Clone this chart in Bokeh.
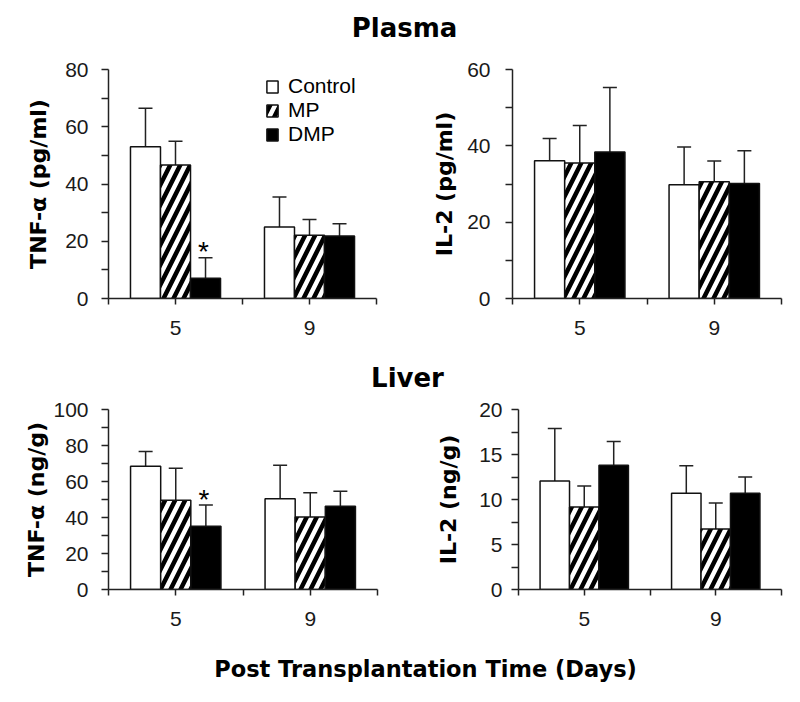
from bokeh.plotting import figure
from bokeh.models import (Range1d, FixedTicker, Legend, LegendItem, Whisker, TeeHead,
                          ColumnDataSource, Label)
from bokeh.layouts import column, row
from bokeh.embed import file_html
from bokeh.resources import INLINE

# ---------------- data ----------------
days = ["5", "9"]
groups = ["Control", "MP", "DMP"]

plasma_tnf_control = [53.0, 25.0]
plasma_tnf_control_err = [13.5, 10.5]
plasma_tnf_mp = [46.6, 22.1]
plasma_tnf_mp_err = [8.3, 5.5]
plasma_tnf_dmp = [7.1, 21.8]
plasma_tnf_dmp_err = [7.1, 4.3]
plasma_tnf_sig = ["*", ""]

plasma_il2_control = [36.1, 29.8]
plasma_il2_control_err = [5.8, 9.9]
plasma_il2_mp = [35.5, 30.6]
plasma_il2_mp_err = [9.8, 5.4]
plasma_il2_dmp = [38.4, 30.1]
plasma_il2_dmp_err = [16.9, 8.6]
plasma_il2_sig = ["", ""]

liver_tnf_control = [68.5, 50.4]
liver_tnf_control_err = [8.1, 18.6]
liver_tnf_mp = [49.6, 40.3]
liver_tnf_mp_err = [17.8, 13.5]
liver_tnf_dmp = [35.2, 46.2]
liver_tnf_dmp_err = [11.7, 8.4]
liver_tnf_sig = ["*", ""]

liver_il2_control = [12.05, 10.7]
liver_il2_control_err = [5.85, 3.05]
liver_il2_mp = [9.17, 6.73]
liver_il2_mp_err = [2.33, 2.87]
liver_il2_dmp = [13.8, 10.7]
liver_il2_dmp_err = [2.65, 1.8]
liver_il2_sig = ["", ""]

plasma_tnf_yticks = [0, 20, 40, 60, 80]
plasma_il2_yticks = [0, 20, 40, 60]
liver_tnf_yticks = [0, 20, 40, 60, 80, 100]
liver_il2_yticks = [0, 5, 10, 15, 20]

# ---------------- styles ----------------
FONT = "Liberation Sans"
BOLD_FONT = "DejaVu Sans"
TXT = "#1a1a1a"
BAR_W = 0.224
styles = {
    "Control": dict(fill_color="white", hatch_pattern=None),
    "MP": dict(fill_color="white", hatch_pattern="/"),
    "DMP": dict(fill_color="black", hatch_pattern=None),
}


def panel(width, height, left, top, right, bottom, yticks, ylabel, series, sig,
          tick_standoff, label_standoff, legend=False):
    ymax = yticks[-1]
    step = yticks[1] - yticks[0]
    minors = [t + step / 2 for t in yticks[:-1]]
    p = figure(width=width, height=height, x_range=Range1d(0, len(days)),
               y_range=Range1d(0, ymax), output_backend="svg", toolbar_location=None,
               min_border_left=left, min_border_top=top, min_border_right=right,
               min_border_bottom=bottom)
    p.outline_line_color = None
    p.grid.visible = False

    renderers = {}
    for j, g in enumerate(groups):
        means, errs = series[g]
        xs = [i + 0.5 + (j - 1) * BAR_W for i in range(len(days))]
        src = ColumnDataSource(dict(x=xs, top=means,
                                    up=[m + e for m, e in zip(means, errs)]))
        st = styles[g]
        kw = {}
        if st["hatch_pattern"]:
            kw = dict(hatch_pattern=st["hatch_pattern"], hatch_scale=20,
                      hatch_weight=4.5, hatch_color="black")
        r = p.vbar(x="x", top="top", bottom=0, width=BAR_W, source=src,
                   fill_color=st["fill_color"], line_color="#111111", line_width=1.5, **kw)
        renderers[g] = r
        w = Whisker(source=src, base="x", lower="top", upper="up", dimension="height",
                    line_color="#222222", line_width=1.5, lower_head=None,
                    upper_head=TeeHead(size=14, line_color="#222222", line_width=1.5))
        p.add_layout(w)
        if g == "DMP":
            ssrc = ColumnDataSource(dict(x=xs, y=src.data["up"], t=sig))
            p.text(x="x", y="y", text="t", source=ssrc, text_align="center",
                   text_baseline="alphabetic", text_font_size="28px", x_offset=-2,
                   y_offset=-6, text_color="black", text_font={"value": FONT})

    # axes
    ya = p.yaxis[0]
    ya.ticker = FixedTicker(ticks=yticks, minor_ticks=minors)
    ya.axis_label = ylabel
    ya.axis_label_text_font = BOLD_FONT
    ya.axis_label_text_font_style = "bold"
    ya.axis_label_text_font_size = "22px"
    ya.axis_label_text_color = "black"
    ya.axis_label_standoff = label_standoff
    ya.major_label_text_font = FONT
    ya.major_label_text_font_size = "21px"
    ya.major_label_text_color = TXT
    ya.major_label_standoff = tick_standoff
    ya.major_tick_out = 7
    ya.major_tick_in = 0
    ya.minor_tick_out = 7
    ya.minor_tick_in = 0
    ya.axis_line_width = 1.5
    ya.axis_line_color = "#222222"
    ya.major_tick_line_width = 1.5
    ya.minor_tick_line_width = 1.5
    ya.major_tick_line_color = "#222222"
    ya.minor_tick_line_color = "#222222"

    xa = p.xaxis[0]
    xticks = [i * 0.5 for i in range(2 * len(days) + 1)]
    xa.ticker = FixedTicker(ticks=xticks)
    overrides = {t: "" for t in xticks}
    for i, d in enumerate(days):
        overrides[i + 0.5] = d
    xa.major_label_overrides = overrides
    xa.major_label_text_font = FONT
    xa.major_label_text_font_size = "21px"
    xa.major_label_text_color = TXT
    xa.major_label_standoff = 16
    xa.major_tick_out = 6
    xa.major_tick_in = 0
    xa.minor_tick_out = 0
    xa.minor_tick_in = 0
    xa.axis_line_width = 1.5
    xa.axis_line_color = "#222222"
    xa.major_tick_line_width = 1.5
    xa.major_tick_line_color = "#222222"

    if legend:
        lg = Legend(items=[LegendItem(label=g, renderers=[renderers[g]]) for g in groups],
                    location=(157, 152), padding=0, margin=0, spacing=0,
                    glyph_width=14, glyph_height=15, label_height=20, label_standoff=9,
                    label_text_font=FONT, label_text_font_size="21px",
                    label_text_color="black", border_line_color=None,
                    background_fill_alpha=0)
        p.add_layout(lg)
    return p


W = 798


def title_fig(h, txt, x, y, size):
    t = figure(width=W, height=h, x_range=Range1d(0, W), y_range=Range1d(0, h),
               output_backend="svg", toolbar_location=None, min_border=0,
               x_axis_location=None, y_axis_location=None)
    t.outline_line_color = None
    t.grid.visible = False
    t.add_layout(Label(x=x, y=y, text=txt, text_align="center", text_baseline="alphabetic",
                       text_font=BOLD_FONT, text_font_style="bold", text_font_size=size,
                       text_color="black"))
    return t


p1 = panel(400, 295, 108, 16, 24, 50, plasma_tnf_yticks, "TNF-\u03b1 (pg/ml)",
           {"Control": (plasma_tnf_control, plasma_tnf_control_err),
            "MP": (plasma_tnf_mp, plasma_tnf_mp_err),
            "DMP": (plasma_tnf_dmp, plasma_tnf_dmp_err)}, plasma_tnf_sig,
           13, 11, legend=True)
p2 = panel(398, 295, 112, 8, 17, 44, plasma_il2_yticks, "IL-2 (pg/ml)",
           {"Control": (plasma_il2_control, plasma_il2_control_err),
            "MP": (plasma_il2_mp, plasma_il2_mp_err),
            "DMP": (plasma_il2_dmp, plasma_il2_dmp_err)}, plasma_il2_sig,
           15, 7)
p3 = panel(400, 245, 108, 9, 23, 54, liver_tnf_yticks, "TNF-\u03b1 (ng/g)",
           {"Control": (liver_tnf_control, liver_tnf_control_err),
            "MP": (liver_tnf_mp, liver_tnf_mp_err),
            "DMP": (liver_tnf_dmp, liver_tnf_dmp_err)}, liver_tnf_sig,
           13, 1)
p4 = panel(398, 245, 118, 11, 17, 54, liver_il2_yticks, "IL-2 (ng/g)",
           {"Control": (liver_il2_control, liver_il2_control_err),
            "MP": (liver_il2_mp, liver_il2_mp_err),
            "DMP": (liver_il2_dmp, liver_il2_dmp_err)}, liver_il2_sig,
           9, 15)

t1 = title_fig(53, "Plasma", 404, 26, "26px")
t2 = title_fig(50, "Liver", 407, 21, "26px")
t3 = title_fig(56, "Post Transplantation Time (Days)", 425, 31, "22.5px")

layout = column(t1, row(p1, p2), t2, row(p3, p4), t3)

open("out.html", "w").write(file_html(layout, INLINE))
